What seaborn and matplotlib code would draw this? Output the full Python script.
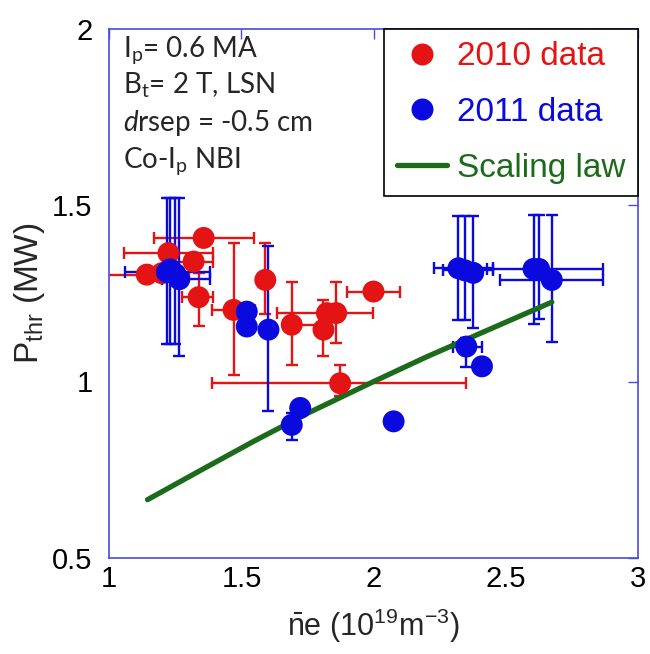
import numpy as np
import pandas as pd
import seaborn as sns
import matplotlib.pyplot as plt

# 2010 data (red)
ne_2010 = [1.142, 1.199, 1.224, 1.319, 1.357, 1.338, 1.470, 1.590, 1.690, 1.823, 1.858, 1.810, 1.999, 1.873]
p_2010 = [1.303, 1.307, 1.364, 1.340, 1.407, 1.239, 1.203, 1.288, 1.161, 1.194, 1.194, 1.147, 1.255, 0.995]
ne_lo_2010 = [0.950, 1.199, 1.057, 1.250, 1.168, 1.274, 1.388, 1.590, 1.660, 1.634, 1.858, 1.810, 1.898, 1.388]
ne_hi_2010 = [1.300, 1.199, 1.394, 1.394, 1.548, 1.394, 1.550, 1.590, 1.800, 1.999, 1.858, 1.810, 2.100, 2.350]
p_lo_2010 = [1.303, 1.307, 1.364, 1.340, 1.407, 1.156, 1.019, 1.190, 1.047, 1.194, 1.109, 1.071, 1.255, 0.958]
p_hi_2010 = [1.303, 1.307, 1.364, 1.340, 1.407, 1.307, 1.392, 1.392, 1.281, 1.194, 1.281, 1.232, 1.255, 1.047]

# 2011 data (blue)
ne_2011 = [1.218, 1.230, 1.250, 1.265, 1.520, 1.520, 1.602, 1.722, 1.690, 2.075,
           2.320, 2.345, 2.376, 2.350, 2.409, 2.604, 2.625, 2.673]
p_2011 = [1.310, 1.318, 1.305, 1.290, 1.198, 1.156, 1.147, 0.925, 0.877, 0.887,
          1.321, 1.315, 1.308, 1.099, 1.043, 1.319, 1.319, 1.288]
ne_lo_2011 = [1.060, 1.230, 1.250, 1.200, 1.520, 1.520, 1.602, 1.722, 1.690, 2.075,
              2.226, 2.263, 2.376, 2.300, 2.409, 2.428, 2.625, 2.478]
ne_hi_2011 = [1.382, 1.230, 1.250, 1.382, 1.520, 1.520, 1.602, 1.722, 1.690, 2.075,
              2.450, 2.450, 2.376, 2.410, 2.409, 2.866, 2.625, 2.866]
p_lo_2011 = [1.105, 1.105, 1.105, 1.071, 1.198, 1.156, 0.915, 0.925, 0.835, 0.887,
             1.175, 1.175, 1.151, 1.042, 1.043, 1.164, 1.177, 1.113]
p_hi_2011 = [1.520, 1.520, 1.520, 1.520, 1.198, 1.156, 1.383, 0.925, 0.910, 0.887,
             1.470, 1.470, 1.470, 1.124, 1.043, 1.473, 1.473, 1.473]

# scaling law curve
ne_law = [1.145, 1.350, 1.550, 1.750, 2.000, 2.200, 2.450, 2.673]
p_law = [0.665, 0.750, 0.832, 0.910, 1.000, 1.070, 1.152, 1.225]

red = "#e41414"
blue = "#0a0ade"
green = "#1b6b1b"
axcol = "#4a4ae0"

sns.set_style("white")
plt.rcParams["font.family"] = ["Liberation Sans", "DejaVu Sans"]
plt.rcParams["mathtext.fontset"] = "custom"
plt.rcParams["mathtext.it"] = "Lato:italic"
plt.rcParams["mathtext.rm"] = "Lato"

df = pd.DataFrame({
    "ne": ne_2010 + ne_2011,
    "P": p_2010 + p_2011,
    "series": ["2010 data"] * len(ne_2010) + ["2011 data"] * len(ne_2011),
})

fig = plt.figure(figsize=(6.5, 6.54), dpi=100)
ax = fig.add_axes([0.168, 0.147, 0.814, 0.809])

for x, y, xl, xh, yl, yh, c in [
    (ne_2010, p_2010, ne_lo_2010, ne_hi_2010, p_lo_2010, p_hi_2010, red),
    (ne_2011, p_2011, ne_lo_2011, ne_hi_2011, p_lo_2011, p_hi_2011, blue),
]:
    x, y = np.array(x), np.array(y)
    xerr = [x - np.array(xl), np.array(xh) - x]
    yerr = [y - np.array(yl), np.array(yh) - y]
    ax.errorbar(x, y, xerr=xerr, yerr=yerr, fmt="none", ecolor=c,
                elinewidth=1.7, capsize=4, capthick=1.7, zorder=2)

sns.lineplot(x=ne_law, y=p_law, color=green, lw=3.8, ax=ax,
             label="Scaling law", zorder=3)
sns.scatterplot(data=df, x="ne", y="P", hue="series",
                palette={"2010 data": red, "2011 data": blue},
                s=250, linewidth=0, ax=ax, zorder=4)

ax.set_xlim(1, 3)
ax.set_ylim(0.5, 2)
ax.set_xticks([1, 1.5, 2, 2.5, 3])
ax.set_xticklabels(["1", "1.5", "2", "2.5", "3"])
ax.set_yticks([0.5, 1, 1.5, 2])
ax.set_yticklabels(["0.5", "1", "1.5", "2"])
ax.tick_params(direction="in", length=7, width=1, color=axcol, labelsize=21,
               top=True, right=True, labelcolor="black")
ax.tick_params(axis="x", pad=5)
ax.tick_params(axis="y", pad=12)
for sp in ax.spines.values():
    sp.set_color(axcol)
    sp.set_linewidth(1.2)

ax.set_xlabel(r"$\mathregular{\bar{n}}$e (10$\mathregular{^{19}}$m$\mathregular{^{-3}}$)",
              fontsize=22, labelpad=10)
ax.set_ylabel(r"P$\mathregular{_{thr}}$ (MW)", fontsize=24, labelpad=4)

# annotation block
info = [r"I$\mathregular{_p}$= 0.6 MA",
        r"B$\mathregular{_t}$= 2 T, LSN",
        r"$\it{d}$rsep = -0.5 cm",
        r"Co-I$\mathregular{_p}$ NBI"]
info_y = [1.921, 1.816, 1.711, 1.606]
for t, yy in zip(info, info_y):
    ax.text(1.053, yy, t, fontsize=20, family="Lato", va="baseline", ha="left")

handles, labels = ax.get_legend_handles_labels()
order = [labels.index("2010 data"), labels.index("2011 data"), labels.index("Scaling law")]
leg = ax.legend([handles[i] for i in order], [labels[i] for i in order],
                loc="upper right", bbox_to_anchor=(1.0, 1.0), borderaxespad=0,
                fontsize=24, frameon=True, fancybox=False, edgecolor="black",
                framealpha=1, labelspacing=0.74, handlelength=1.5,
                handletextpad=0.3, borderpad=0.38, markerscale=1.0)
leg.get_frame().set_linewidth(1.2)
for txt, c in zip(leg.get_texts(), [red, blue, green]):
    txt.set_color(c)

fig.savefig("out.png", dpi=100)
